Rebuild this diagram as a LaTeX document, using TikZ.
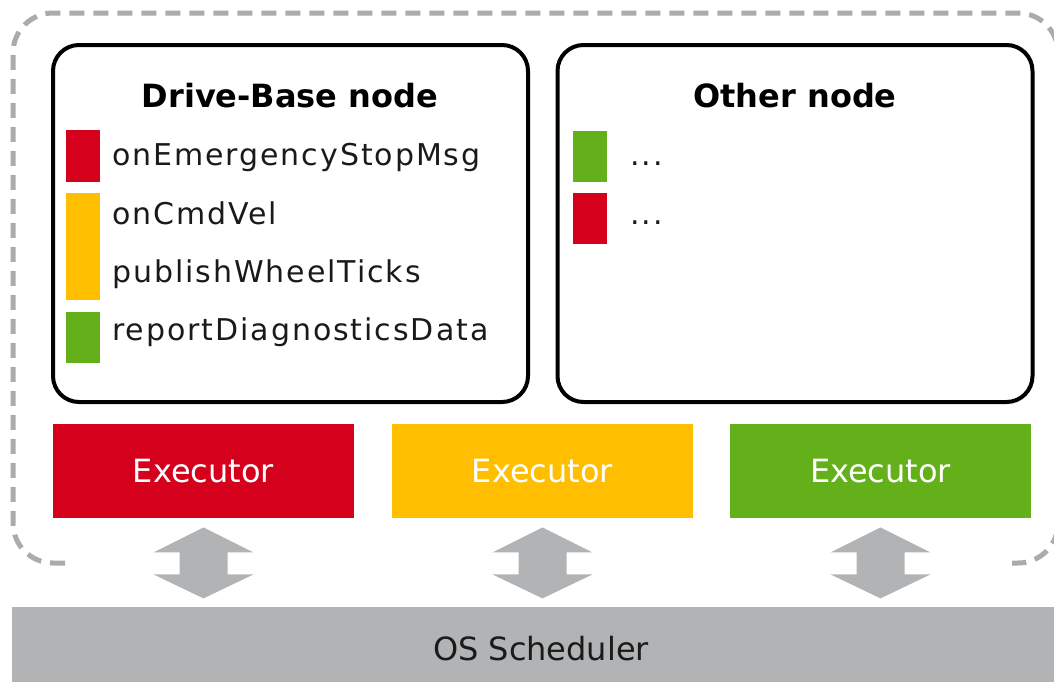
\documentclass[tikz,border=0pt]{standalone}
\usepackage{fontspec}
\setmainfont{DejaVu Sans}
\newfontfamily\itemfont[LetterSpace=6.5]{DejaVu Sans}
\usetikzlibrary{calc}

\begin{document}
\begin{tikzpicture}[x=0.5pt,y=-0.5pt,
  nodebox/.style={draw=black,line width=2pt,rounded corners=13pt,minimum width=237.5pt,minimum height=178.5pt,inner sep=0pt},
  execbox/.style={fill=#1,text=white,minimum width=150.5pt,minimum height=47pt,inner sep=0pt,font=\fontsize{16}{19}\selectfont},
  title/.style={anchor=base,font=\bfseries\fontsize{16}{19}\selectfont},
  item/.style={anchor=base west,text=txt,font=\itemfont\fontsize{15}{18}\selectfont}]
\definecolor{bred}{HTML}{D5001C}
\definecolor{byellow}{HTML}{FFBF00}
\definecolor{bgreen}{HTML}{64B01A}
\definecolor{bgray}{HTML}{B2B3B5}
\definecolor{dashgray}{HTML}{ABABAB}
\definecolor{txt}{HTML}{1A1A1A}
\useasboundingbox (0,0) rectangle (1054,681);

% process frame, open at the bottom
\draw[dashgray,line width=2.5pt,dash pattern=on 7.5pt off 4.5pt,rounded corners=20pt]
  (65,563) -- (13,563) -- (13,13) -- (1058,13) -- (1058,563) -- (1012,563);

% ROS nodes
\node[nodebox] (drive) at (290.5,223.5) {};
\node[nodebox] (other) at (795,223.5) {};
\node[title] (drivetitle) at (290,107) {Drive-Base node};
\node[title] (othertitle) at (795,107) {Other node};

% callbacks
\fill[bred] (66,130) rectangle (100,182);
\fill[byellow] (66,193) rectangle (100,300);
\fill[bgreen] (66,312) rectangle (100,363);
\node[item] (cb1) at (105,165) {onEmergencyStopMsg};
\node[item] (cb2) at (105,224) {onCmdVel};
\node[item] (cb3) at (105,282) {publishWheelTicks};
\node[item] (cb4) at (105,340) {reportDiagnosticsData};

\fill[bgreen] (573,131) rectangle (607,182);
\fill[bred] (573,193) rectangle (607,244);
\node[item] (ocb1) at (623,165) {...};
\node[item] (ocb2) at (623,224) {...};

% executors
\node[execbox=bred] (exred) at (203.5,471) {Executor};
\node[execbox=byellow] (exyellow) at (542.5,471) {Executor};
\node[execbox=bgreen] (exgreen) at (880.5,471) {Executor};

\node[fill=bgray,text=txt,minimum width=529pt,minimum height=41.5pt,inner sep=0pt,
  font=\fontsize{16}{19}\selectfont] (os) at (541,648.5) {OS Scheduler};

% executor <-> scheduler
\foreach \ex in {exred,exyellow,exgreen} {
  \fill[bgray] ($(\ex.south)+(0,9)$) -- ++(50,25) -- ++(-26,0) -- ++(0,22) -- ++(26,0)
    -- ++(-50,24) -- ++(-50,-24) -- ++(26,0) -- ++(0,-22) -- ++(-26,0) -- cycle;
}
\end{tikzpicture}
\end{document}
